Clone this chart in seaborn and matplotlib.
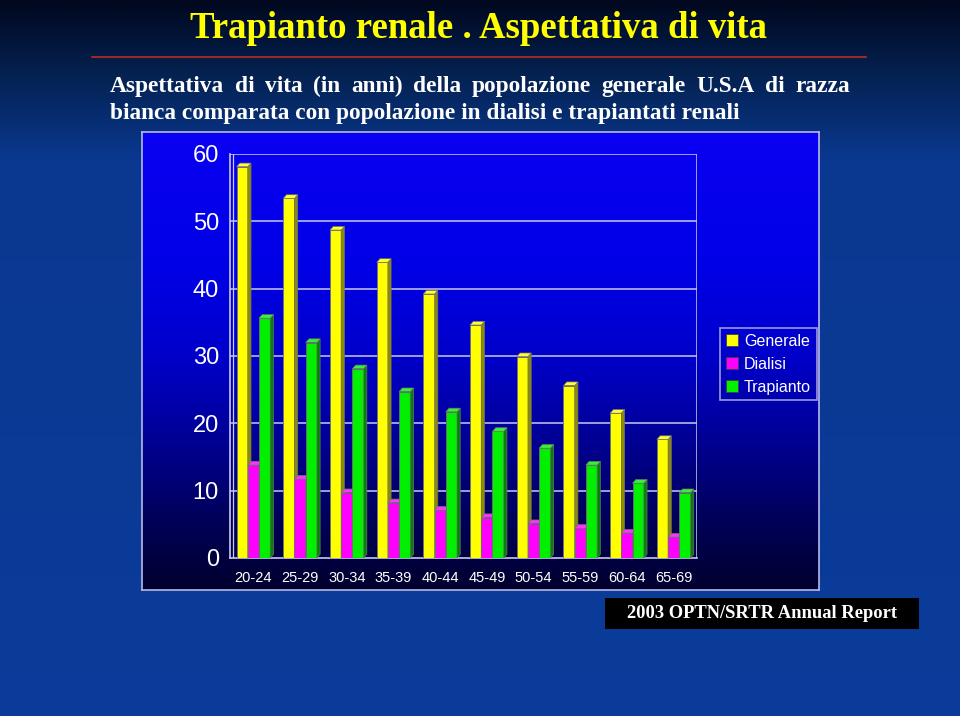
import numpy as np
import pandas as pd
import matplotlib
matplotlib.use("Agg")
import matplotlib.pyplot as plt
import seaborn as sns
from matplotlib.patches import Polygon, Rectangle, Patch
from matplotlib.colors import LinearSegmentedColormap, to_rgb

# dati (aspettativa di vita in anni)
age_groups = ["20-24", "25-29", "30-34", "35-39", "40-44",
              "45-49", "50-54", "55-59", "60-64", "65-69"]
generale = [58.1, 53.4, 48.7, 43.9, 39.2, 34.6, 29.9, 25.6, 21.5, 17.6]
dialisi = [13.8, 11.7, 9.7, 8.2, 7.1, 6.0, 5.1, 4.4, 3.7, 3.1]
trapianto = [35.6, 32.0, 28.1, 24.7, 21.7, 18.8, 16.3, 13.8, 11.1, 9.7]
series_names = ["Generale", "Dialisi", "Trapianto"]
y_ticks = [0, 10, 20, 30, 40, 50, 60]

title = "Trapianto renale . Aspettativa di vita"
subtitle_1 = "Aspettativa di vita (in anni) della popolazione generale U.S.A di razza"
subtitle_2 = "bianca comparata con popolazione in dialisi e trapiantati renali"
source = "2003 OPTN/SRTR Annual Report"

colors = {"Generale": "#ffff00", "Dialisi": "#ff00ff", "Trapianto": "#00f000"}

df = pd.DataFrame({
    "eta": age_groups * 3,
    "valore": generale + dialisi + trapianto,
    "serie": np.repeat(series_names, len(age_groups)),
})

sns.set_theme(style="white")
plt.rcParams["font.family"] = ["Liberation Sans", "DejaVu Sans"]
SERIF = ["Liberation Serif", "DejaVu Serif"]

W, H = 960, 716
fig = plt.figure(figsize=(W / 100, H / 100), dpi=100)

def fx(px):
    return px / W

def fy(py):
    return 1 - py / H

# sfondo della slide (gradiente blu scuro)
bg = fig.add_axes([0, 0, 1, 1], zorder=-10)
bg_cmap = LinearSegmentedColormap.from_list(
    "slide", [(0, "#01081f"), (0.10, "#04214f"), (0.22, "#0a3890"), (1, "#0b3c9b")])
bg.imshow(np.linspace(0, 1, 256).reshape(-1, 1), cmap=bg_cmap, aspect="auto",
          extent=[0, 1, 0, 1])
bg.set_xlim(0, 1)
bg.set_ylim(0, 1)
bg.axis("off")

# cornice del grafico con gradiente blu
frame = fig.add_axes([fx(142), fy(590), fx(819) - fx(142), fy(132) - fy(590)], zorder=-5)
fr_cmap = LinearSegmentedColormap.from_list(
    "frame", [(0, "#0a00f2"), (0.3, "#0000e6"), (0.5, "#0000c8"),
              (0.7, "#00008c"), (0.85, "#000058"), (1, "#00002e")])
frame.imshow(np.linspace(0, 1, 256).reshape(-1, 1), cmap=fr_cmap, aspect="auto",
             extent=[0, 1, 0, 1])
frame.set_xticks([])
frame.set_yticks([])
for s in frame.spines.values():
    s.set_color("#b8b8e8")
    s.set_linewidth(1.2)

# assi del grafico
ax = fig.add_axes([fx(230), fy(558), fx(697) - fx(230), fy(154) - fy(558)], zorder=1)
ax.patch.set_alpha(0)
sns.barplot(data=df, x="eta", y="valore", hue="serie", order=age_groups,
            hue_order=series_names, palette=colors, width=0.72, ax=ax,
            edgecolor="#707070", linewidth=0.6, legend=False, saturation=1)

ax.set_xlim(-0.5, len(age_groups) - 0.5)
ax.set_ylim(0, 60)

# effetto 3D: facce laterali e superiori derivate dalle barre
dx, dy = 0.07, 0.55
bars = [p for p in ax.patches if isinstance(p, Rectangle)]
n = len(age_groups)
for i, p in enumerate(bars):
    k = i // n
    x0, w, h = p.get_x(), p.get_width(), p.get_height()
    c = np.array(to_rgb(p.get_facecolor()))
    p.set_zorder(3 + k)
    side = Polygon([(x0 + w, 0), (x0 + w + dx, dy), (x0 + w + dx, h + dy), (x0 + w, h)],
                   closed=True, facecolor=c * 0.55, edgecolor="#707070", lw=0.5,
                   zorder=3 + k)
    top = Polygon([(x0, h), (x0 + dx, h + dy), (x0 + w + dx, h + dy), (x0 + w, h)],
                  closed=True, facecolor=c * 0.8 + 0.2, edgecolor="#707070", lw=0.5,
                  zorder=3 + k)
    ax.add_patch(side)
    ax.add_patch(top)

grid_c = "#c8c8f0"
for t in y_ticks[1:]:
    ax.axhline(t, color=grid_c, lw=1.1, zorder=0.5)
ax.axvline(len(age_groups) - 0.5, color=grid_c, lw=1.1, zorder=0.5)
ax.axvline(-0.5 + dx, color=grid_c, lw=0.9, zorder=0.5)

for s in ["top", "right"]:
    ax.spines[s].set_visible(False)
for s in ["left", "bottom"]:
    ax.spines[s].set_color(grid_c)
    ax.spines[s].set_linewidth(1.2)

ax.set_yticks(y_ticks)
ax.set_yticklabels([str(t) for t in y_ticks], color="white", fontsize=17)
ax.tick_params(axis="y", direction="out", length=6, width=1, color=grid_c, pad=2)
ax.set_xticks(range(len(age_groups)))
ax.set_xticklabels(age_groups, color="white", fontsize=10.5)
ax.set_xticks(np.arange(-0.5, len(age_groups)), minor=True)
ax.tick_params(axis="x", which="major", length=0, pad=9)
ax.tick_params(axis="x", which="minor", direction="out", length=6, width=1, color=grid_c)
ax.set_xlabel("")
ax.set_ylabel("")

handles = [Patch(facecolor=colors[s], edgecolor="#404040", lw=0.6) for s in series_names]
leg = ax.legend(handles, series_names, loc="upper left",
                bbox_to_anchor=(fx(720), fy(328)), bbox_transform=fig.transFigure,
                borderaxespad=0, fontsize=11.5, handlelength=0.75, handleheight=0.75,
                handletextpad=0.4, labelspacing=0.5, borderpad=0.35,
                frameon=True, fancybox=False, labelcolor="white")
leg.get_frame().set_facecolor("none")
leg.get_frame().set_edgecolor("#c0c0e8")
leg.get_frame().set_linewidth(1.2)

# titolo, linea rossa e sottotitolo
fig.text(fx(479), fy(29), title, ha="center", va="center", color="#ffff00",
         fontsize=26.5, fontweight="bold", family=SERIF)
fig.add_artist(plt.Line2D([fx(92), fx(866)], [fy(57), fy(57)], color="#9a2a2a", lw=1.5))

# prima riga del sottotitolo giustificata fra x=110 e x=850
renderer = fig.canvas.get_renderer()
words = subtitle_1.split(" ")
word_txt = [fig.text(0, fy(92), wd, ha="left", va="baseline", color="white",
                     fontsize=16.8, fontweight="bold", family=SERIF) for wd in words]
widths = [t.get_window_extent(renderer).width for t in word_txt]
gap = (850 - 110 - sum(widths)) / (len(words) - 1)
xpos = 110
for t, wdt in zip(word_txt, widths):
    t.set_x(fx(xpos))
    xpos += wdt + gap
fig.text(fx(110), fy(119), subtitle_2, ha="left", va="baseline", color="white",
         fontsize=16.8, fontweight="bold", family=SERIF)

# riquadro della fonte
fig.add_artist(Rectangle((fx(605), fy(629)), fx(919) - fx(605), fy(598) - fy(629),
                         transform=fig.transFigure, facecolor="black", edgecolor="none"))
fig.text(fx(762), fy(614), source, ha="center", va="center", color="white",
         fontsize=13.3, fontweight="bold", family=SERIF)

fig.savefig("out.png", dpi=100)
